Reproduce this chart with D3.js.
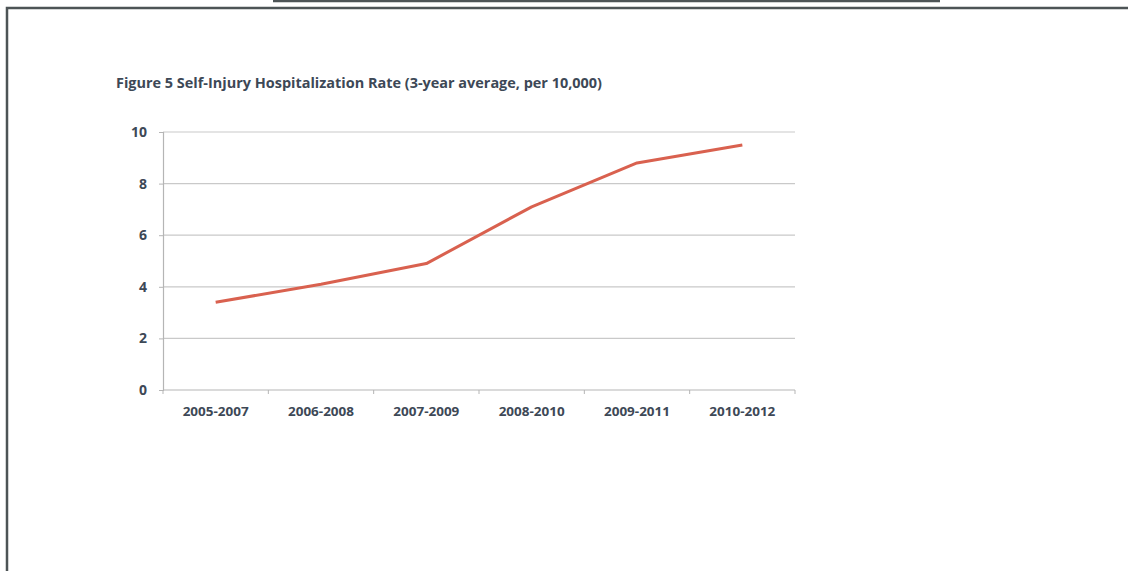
<!DOCTYPE html>
<html>
<head>
<meta charset="utf-8">
<script src="https://cdn.jsdelivr.net/npm/d3@7"></script>
<style>
  html, body { margin: 0; padding: 0; background: #fff; }
  svg { display: block; }
</style>
</head>
<body>
<svg id="chart" width="1128" height="571"></svg>
<script>
// Three-year rolling periods and the self-injury hospitalization rate per 10,000
const periods = ["2005-2007", "2006-2008", "2007-2009", "2008-2010", "2009-2011", "2010-2012"];
const rates = [3.4, 4.1, 4.9, 7.1, 8.8, 9.5];
const yTicks = [0, 2, 4, 6, 8, 10];
const titleText = "Figure 5 Self-Injury Hospitalization Rate (3-year average, per 10,000)";

const svg = d3.select("#chart");
const textColor = "#3d4856";
const font = "'Open Sans', 'Liberation Sans', sans-serif";

// Page frame
svg.append("line").attr("x1", 273).attr("x2", 940).attr("y1", 1).attr("y2", 1)
  .attr("stroke", "#4d5456").attr("stroke-width", 2.5);
svg.append("path")
  .attr("d", "M7,571 V8 H1128")
  .attr("fill", "none").attr("stroke", "#4d5456").attr("stroke-width", 2.5);

// Title
svg.append("text")
  .attr("x", 116).attr("y", 88)
  .attr("font-family", font).attr("font-weight", 700).attr("font-size", 14)
  .attr("fill", textColor)
  .attr("textLength", 486).attr("lengthAdjust", "spacingAndGlyphs")
  .text(titleText);

// Plot geometry
const plotLeft = 163, plotRight = 795, plotTop = 132, plotBottom = 390;

const x = d3.scaleBand().domain(periods).range([plotLeft, plotRight]);
const y = d3.scaleLinear().domain([0, 10]).range([plotBottom, plotTop]);

// Horizontal gridlines
svg.append("g")
  .selectAll("line").data(yTicks.filter(d => d > 0)).join("line")
  .attr("x1", plotLeft).attr("x2", plotRight)
  .attr("y1", d => y(d)).attr("y2", d => y(d))
  .attr("stroke", "#c9c9c9").attr("stroke-width", 1.2);

// Y axis
const yAxis = svg.append("g")
  .attr("transform", `translate(${plotLeft},0)`)
  .call(d3.axisLeft(y).tickValues(yTicks).tickSize(4).tickPadding(12).tickFormat(d3.format("d")));
yAxis.select(".domain").attr("stroke", "#b5b5b5").attr("stroke-width", 1.2);
yAxis.selectAll(".tick line").attr("stroke", "#b5b5b5");
yAxis.selectAll(".tick text")
  .attr("font-family", font).attr("font-weight", 700).attr("font-size", 14)
  .attr("fill", textColor);

// X axis with ticks on the category boundaries
const xAxis = svg.append("g")
  .attr("transform", `translate(0,${plotBottom})`)
  .call(d3.axisBottom(x).tickSize(0).tickPadding(17));
xAxis.select(".domain").remove();
xAxis.selectAll(".tick text")
  .attr("font-family", font).attr("font-weight", 700).attr("font-size", 13)
  .attr("fill", textColor)
  .attr("textLength", 66).attr("lengthAdjust", "spacingAndGlyphs");
svg.append("line").attr("x1", plotLeft).attr("x2", plotRight).attr("y1", plotBottom).attr("y2", plotBottom)
  .attr("stroke", "#b5b5b5").attr("stroke-width", 1.2);
svg.append("g")
  .selectAll("line").data(periods.map(p => x(p)).concat([plotRight])).join("line")
  .attr("x1", d => d).attr("x2", d => d)
  .attr("y1", plotBottom).attr("y2", plotBottom + 4)
  .attr("stroke", "#b5b5b5");

// Rate line
const line = d3.line()
  .x((d, i) => x(periods[i]) + x.bandwidth() / 2)
  .y(d => y(d));
svg.append("path")
  .datum(rates)
  .attr("d", line)
  .attr("fill", "none")
  .attr("stroke", "#d9614f")
  .attr("stroke-width", 3)
  .attr("stroke-linejoin", "round");
</script>
</body>
</html>
